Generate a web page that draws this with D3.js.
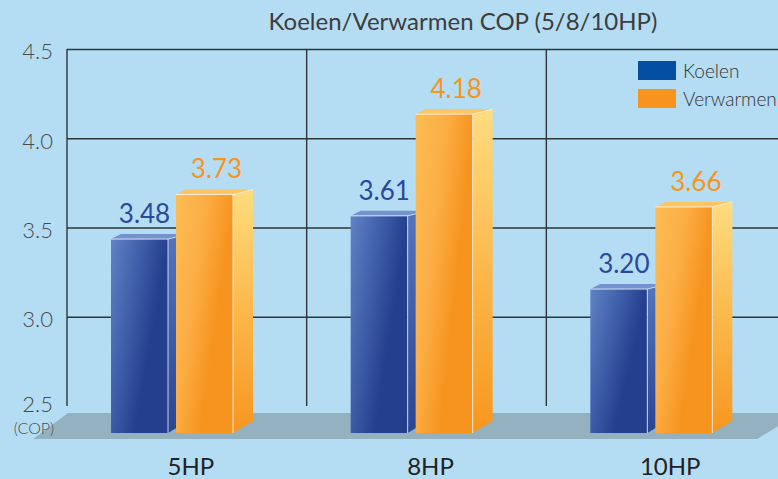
<!DOCTYPE html>
<html>
<head>
<meta charset="utf-8">
<script src="https://cdn.jsdelivr.net/npm/d3@7"></script>
<style>
  body { margin: 0; background: #b4ddf4; }
  svg { display: block; font-family: Lato, "DejaVu Sans", sans-serif; font-weight: 300; }
</style>
</head>
<body>
<div id="chart"></div>
<script>
// data
const categories = ['5HP', '8HP', '10HP'];
const series = ['Koelen', 'Verwarmen'];
const koelen = [3.48, 3.61, 3.20];
const verwarmen = [3.73, 4.18, 3.66];
const yTicks = [2.5, 3.0, 3.5, 4.0, 4.5];
const title = 'Koelen/Verwarmen COP (5/8/10HP)';

const width = 778, height = 479;
const plotLeft = 67, plotTop = 49, gridBottom = 406;
const barBase = 433;   // where the bars stand on the floor
const depthX = 20, depthTop = 5, depthBottom = 12;

const svg = d3.select('#chart').append('svg')
    .attr('width', width)
    .attr('height', height);

svg.append('rect').attr('width', width).attr('height', height).attr('fill', '#b4ddf4');

const y = d3.scaleLinear().domain([2.5, 4.5]).range([gridBottom, plotTop]);
const x0 = d3.scaleBand().domain(categories).range([plotLeft, 786]);
const x1 = d3.scaleBand().domain(series).range([44, 166]).paddingInner(0.123);

// gradients
const defs = svg.append('defs');
function grad(id, stops, x2, y2) {
    const g = defs.append('linearGradient').attr('id', id)
        .attr('x1', 0).attr('y1', 0).attr('x2', x2).attr('y2', y2);
    stops.forEach(s => g.append('stop').attr('offset', s[0]).attr('stop-color', s[1]));
}
grad('blueFront', [[0, '#5f83c6'], [0.45, '#3c5aa6'], [0.75, '#243f8d'], [1, '#243f8d']], 1, 0.6);
grad('blueSide', [[0, '#5674bd'], [1, '#2a4592']], 0, 1);
grad('orangeFront', [[0, '#fdbd55'], [0.4, '#fbae45'], [0.75, '#f7941f'], [1, '#f7941f']], 1, 0.6);
grad('orangeSide', [[0, '#fedc7e'], [0.5, '#fbb84a'], [1, '#f7961f']], 0, 1);

const style = {
    Koelen: {front: 'url(#blueFront)', side: 'url(#blueSide)', top: '#7591d0', label: '#2b489b', swatch: '#044ea3', dx: 5},
    Verwarmen: {front: 'url(#orangeFront)', side: 'url(#orangeSide)', top: '#fdc463', label: '#f7941d', swatch: '#f7941d', dx: 12}
};

// floor
svg.append('polygon')
    .attr('points', [[68, 413], [800, 413], [757, 439], [33, 439]].join(' '))
    .attr('fill', '#94b1c0');

// grid via axis
const yAxis = svg.append('g')
    .attr('transform', `translate(${plotLeft},0)`)
    .call(d3.axisLeft(y).tickValues(yTicks).tickSize(-(width - plotLeft)).tickPadding(14)
        .tickFormat(d3.format('.1f')));
yAxis.select('.domain').remove();
yAxis.selectAll('.tick line')
    .attr('stroke', '#2f3438').attr('stroke-width', 1.4)
    .attr('display', d => d === 2.5 ? 'none' : null);
yAxis.selectAll('.tick text')
    .attr('fill', '#4a4a4a').attr('font-size', 22)
    .attr('dy', d => d === 2.5 ? '0.25em' : '0.45em')
    .attr('font-family', 'Lato, sans-serif').attr('font-weight', 300);

svg.append('line')
    .attr('x1', plotLeft).attr('x2', plotLeft).attr('y1', plotTop).attr('y2', gridBottom)
    .attr('stroke', '#2f3438').attr('stroke-width', 1.4);

svg.selectAll('.vgrid')
    .data(categories.slice(1))
    .enter().append('line')
    .attr('class', 'vgrid')
    .attr('x1', d => x0(d)).attr('x2', d => x0(d))
    .attr('y1', plotTop).attr('y2', gridBottom)
    .attr('stroke', '#2f3438').attr('stroke-width', 1.4);

svg.append('text')
    .attr('x', plotLeft).attr('y', y(2.5) + 28)
    .attr('text-anchor', 'middle').attr('dx', -33)
    .attr('fill', '#4a4a4a').attr('font-size', 16)
    .text('(COP)');

// bars
const rows = [];
categories.forEach((c, i) => {
    rows.push({cat: c, key: 'Koelen', value: koelen[i]});
    rows.push({cat: c, key: 'Verwarmen', value: verwarmen[i]});
});

const bars = svg.selectAll('.bar')
    .data(rows)
    .enter().append('g')
    .attr('class', 'bar');

bars.each(function(d) {
    const g = d3.select(this);
    const bx = x0(d.cat) + x1(d.key);
    const w = x1.bandwidth();
    const yt = y(d.value) + 8;
    const st = style[d.key];

    g.append('polygon')
        .attr('points', [[bx + w, yt], [bx + w + depthX, yt - depthTop], [bx + w + depthX, barBase - depthBottom], [bx + w, barBase]].join(' '))
        .attr('fill', st.side);
    g.append('polygon')
        .attr('points', [[bx, yt], [bx + 10, yt - depthTop], [bx + w + depthX, yt - depthTop], [bx + w, yt]].join(' '))
        .attr('fill', st.top);
    g.append('rect')
        .attr('x', bx).attr('y', yt)
        .attr('width', w).attr('height', barBase - yt)
        .attr('fill', st.front);
    g.append('polyline')
        .attr('points', [[bx, yt], [bx + w, yt], [bx + w, barBase]].join(' '))
        .attr('fill', 'none').attr('stroke', 'rgba(255,255,255,0.75)').attr('stroke-width', 1);
    g.append('line')
        .attr('x1', bx + w).attr('y1', yt).attr('x2', bx + w + depthX).attr('y2', yt - depthTop)
        .attr('stroke', 'rgba(255,255,255,0.6)').attr('stroke-width', 1);

    g.append('text')
        .attr('x', bx + w / 2 + st.dx)
        .attr('y', yt - 16)
        .attr('text-anchor', 'middle')
        .attr('fill', st.label).attr('font-size', 26).attr('font-weight', 400)
        .text(d.value.toFixed(2));
});

// category labels
svg.selectAll('.cat')
    .data(categories)
    .enter().append('text')
    .attr('class', 'cat')
    .attr('x', d => x0(d) + x0.bandwidth() / 2 + 4)
    .attr('y', 475)
    .attr('text-anchor', 'middle')
    .attr('fill', '#222').attr('font-size', 24).attr('font-weight', 400)
    .text(d => d);

// title
svg.append('text')
    .attr('x', 463).attr('y', 30)
    .attr('text-anchor', 'middle')
    .attr('fill', '#3d3d3d').attr('font-size', 24).attr('font-weight', 400)
    .text(title);

// legend
const legend = svg.selectAll('.legend')
    .data(series)
    .enter().append('g')
    .attr('class', 'legend')
    .attr('transform', (d, i) => `translate(638,${61 + i * 28})`);
legend.append('rect')
    .attr('width', 38).attr('height', 19)
    .attr('fill', d => style[d].swatch);
legend.append('text')
    .attr('x', 45).attr('y', 17)
    .attr('fill', '#333').attr('font-size', 19)
    .text(d => d);
</script>
</body>
</html>
